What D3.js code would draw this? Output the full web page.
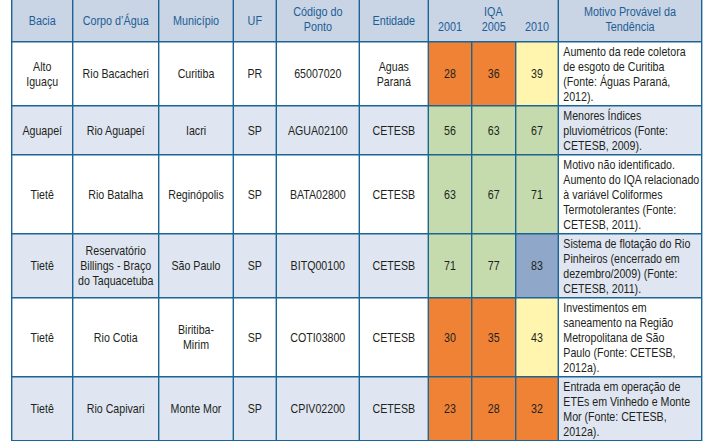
<!DOCTYPE html>
<html><head><meta charset="utf-8">
<script src="https://cdn.jsdelivr.net/npm/d3@7"></script>
<style>
html,body{margin:0;padding:0;background:#fff;}
svg{display:block;font-family:'Liberation Sans',Arial,sans-serif;}
</style></head>
<body>
<svg id="c" width="718" height="441"></svg>
<script>
// ---- data ----
const headers = ["Bacia","Corpo d’Água","Município","UF","Código do\nPonto","Entidade"];
const iqaTitle = "IQA";
const years = ["2001","2005","2010"];
const motivoTitle = "Motivo Provável da\nTendência";

const bacia = ["Alto\nIguaçu","Aguapeí","Tietê","Tietê","Tietê","Tietê"];
const corpo = ["Rio Bacacheri","Rio Aguapeí","Rio Batalha","Reservatório\nBillings - Braço\ndo Taquacetuba","Rio Cotia","Rio Capivari"];
const municipio = ["Curitiba","Iacri","Reginópolis","São Paulo","Biritiba-\nMirim","Monte Mor"];
const uf = ["PR","SP","SP","SP","SP","SP"];
const codigo = ["65007020","AGUA02100","BATA02800","BITQ00100","COTI03800","CPIV02200"];
const entidade = ["Aguas\nParaná","CETESB","CETESB","CETESB","CETESB","CETESB"];
const iqa2001 = [28,56,63,71,30,23];
const iqa2005 = [36,63,67,77,35,28];
const iqa2010 = [39,67,71,83,43,32];
const motivo = [
  "Aumento da rede coletora\nde esgoto de Curitiba\n(Fonte: Águas Paraná,\n2012).",
  "Menores Índices\npluviométricos (Fonte:\nCETESB, 2009).",
  "Motivo não identificado.\nAumento do IQA relacionado\nà variável Coliformes\nTermotolerantes (Fonte:\nCETESB, 2011).",
  "Sistema de flotação do Rio\nPinheiros (encerrado em\ndezembro/2009) (Fonte:\nCETESB, 2011).",
  "Investimentos em\nsaneamento na Região\nMetropolitana de São\nPaulo (Fonte: CETESB,\n2012a).",
  "Entrada em operação de\nETEs em Vinhedo e Monte\nMor (Fonte: CETESB,\n2012a)."
];
// IQA class limits (CETESB) and class colours
const iqaLimits = [20, 37, 52, 80];
const iqaColors = ["#d9322b","#ef8234","#fff5ae","#c5dbae","#8fa7c9"];

// ---- layout ----
const edges = [11.7, 72.7, 158.7, 233.3, 276.3, 359.3, 428.3, 471.7, 515.7, 558.3, 701.7];
const headerTop = -2, headerBottom = 41.7;
const lineH = 15;
const fontSize = 13.3, sx = 0.8;
const borderColor = "#1b6594";
const headBg = "#c9d4e5", altBg = "#dfe6f1";

const svg = d3.select("#c");
const color = d3.scaleThreshold().domain(iqaLimits).range(iqaColors);

const rows = bacia.map((b,i)=>({
  cells:[b, corpo[i], municipio[i], uf[i], codigo[i], entidade[i]],
  iqa:[iqa2001[i], iqa2005[i], iqa2010[i]],
  motivo: motivo[i],
  lines: motivo[i].split("\n").length
}));
const heights = rows.map(r => r.lines*lineH + 4);
const tops = [headerBottom, ...d3.cumsum(heights).map(v=>v+headerBottom)];
rows.forEach((r,i)=>{ r.y0 = tops[i]; r.y1 = tops[i+1]; });

function multiText(g, x, cy, str, anchor, opts={}){
  const parts = str.split("\n");
  const lh = opts.lh || lineH;
  const first = cy - (parts.length-1)*lh/2;
  const t = g.append("g").attr("transform", `translate(${x},0) scale(${sx},1)`)
    .append("text").attr("text-anchor", anchor)
    .attr("font-size", opts.size || fontSize).attr("fill", opts.fill || "#231f20")
    .attr("dominant-baseline","central");
  parts.forEach((p,k)=>{
    t.append("tspan").attr("x", 0).attr("y", first + k*lh).text(p);
  });
  return t;
}

// header background
svg.append("rect").attr("x", edges[0]).attr("y", headerTop)
  .attr("width", edges[10]-edges[0]).attr("height", headerBottom-headerTop).attr("fill", headBg);

// header text
const hg = svg.append("g");
const hOpt = {fill:"#1d5e95", size:13.5};
headers.forEach((h,i)=>{
  const two = h.includes("\n");
  multiText(hg, (edges[i]+edges[i+1])/2, two ? 19.5 : 20.5, h, "middle", hOpt);
});
multiText(hg, (edges[6]+edges[9])/2, 12, iqaTitle, "middle", hOpt);
years.forEach((yv,k)=>{
  multiText(hg, (edges[6+k]+edges[7+k])/2, 27, yv, "middle", hOpt);
});
multiText(hg, (edges[9]+edges[10])/2, 19.5, motivoTitle, "middle", hOpt);

// body rows
const rg = svg.selectAll("g.row").data(rows).join("g").attr("class","row");
rg.append("rect").attr("x", edges[0]).attr("y", d=>d.y0)
  .attr("width", edges[10]-edges[0]).attr("height", d=>d.y1-d.y0)
  .attr("fill", (d,i)=> i%2 ? altBg : "#ffffff");
rg.each(function(d){
  const g = d3.select(this);
  const cy = (d.y0+d.y1)/2;
  d.iqa.forEach((v,k)=>{
    g.append("rect").attr("x", edges[6+k]).attr("y", d.y0)
      .attr("width", edges[7+k]-edges[6+k]).attr("height", d.y1-d.y0)
      .attr("fill", color(v));
    multiText(g, (edges[6+k]+edges[7+k])/2, cy, String(v), "middle");
  });
  d.cells.forEach((c,k)=>{
    multiText(g, (edges[k]+edges[k+1])/2, cy, c, "middle");
  });
  multiText(g, edges[9]+5, cy, d.motivo, "start");
});

// grid lines
const lg = svg.append("g").attr("stroke", borderColor).attr("stroke-width", 1.4);
const bottom = tops[tops.length-1];
edges.forEach((x,i)=>{
  const isYear = i===7 || i===8;
  lg.append("line").attr("x1", x).attr("x2", x)
    .attr("y1", isYear ? headerBottom : headerTop).attr("y2", bottom+3);
});
tops.forEach(t=>{
  lg.append("line").attr("x1", edges[0]).attr("x2", edges[10]).attr("y1", t).attr("y2", t);
});
</script>
</body></html>
